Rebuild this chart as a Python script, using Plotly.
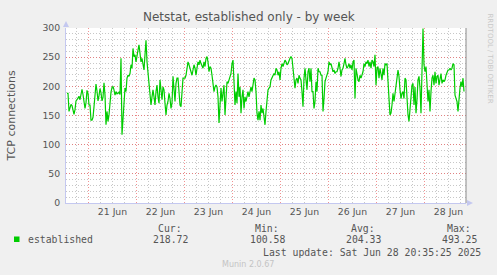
import plotly.graph_objects as go
import pandas as pd

# ---- data (30-minute samples) ----
start_time = "2025-06-20 13:15"
step = "30min"
seg1 = [188,188,157,162,169,167,160,152,160,175,177,181,183,177,188,195,186,172,162,172,
        193,188,168,168,142,142,147,165,191,204,192,175,184,196,189,175,181,206,185,134,
        157,140,151,179,190,198,200,194,185,191,187,188,190,186]
seg2 = [248,117,145,174,197,191,214,219,217,222,237,231,265,251,254,242,257,262,271,259,
        242,248,237,228,254,279,242,225,197,185,168,182,194,182,168,191,202,182,171,211,
        197,177,199,194,171,151,168,174,188,179,162,171,217,194,174,205,214]
seg3 = [214,191,168,165,197,214,214,214,219,231,242,237,228,225,219,228,237,231,219,231,
        242,237,245,239,234,231,242,234,248,251,242,225,234,231,219,202,191,199,202,199,
        182,137,168,197,174,191,202,151,191,208,205,211,219,222,239,245,208]
seg4 = [168,191,171,222,182,199,154,182,194,162,182,174,185,191,182,194,199,191,205,214,
        211,191,154,142,157,142,168,154,162,140,134,157,179,194,197,199,211,214,219,222,
        219,231,228,219,225,211,231,239,234,242,245,242,237,239,245,248,251]
seg5 = [248,231,205,197,211,214,205,219,214,211,191,165,214,231,211,194,225,231,208,231,
        191,191,162,174,208,191,231,225,225,219,219,157,179,208,214,219,225,242,237,239,
        228,225,228,222,225,225,231,242,231,217,228,231,239,248,237,231]
seg6 = [234,239,231,237,228,242,245,179,231,219,211,208,219,214,219,225,239,234,242,239,
        245,234,242,231,245,242,234,254,202,231,234,214,231,222,211,231,219,239,237,239,
        197,179,151,154,168,188,174,185,197,214,228,217,194,179,188,191,179]
seg7 = [214,211,174,151,140,162,182,202,205,168,199,154,177,211,217,197,154,208,299,237,
        225,234,205,174,194,157,191,214,219,202,225,205,217,219,202,214,222,205,211,208,
        211,219,225,228,228,231,228,231,239,237,185,177,174,157,188,197,208,199,214,191]
values = seg1 + seg2 + seg3 + seg4 + seg5 + seg6 + seg7
times = pd.date_range(start_time, periods=len(values), freq=step)

x_range = ["2025-06-20 12:45", "2025-06-28 20:45"]
y_ticks = [0, 50, 100, 150, 200, 250, 300]
series_name = "established"
stat_labels = ["Cur:", "Min:", "Avg:", "Max:"]
stat_values = ["218.72", "100.58", "204.33", "493.25"]
last_update = "Last update: Sat Jun 28 20:35:25 2025"
title = "Netstat, established only - by week"
y_title = "TCP connections"

# ---- layout geometry (pixels) ----
W, H = 497, 275
L, R, T, B = 66, 31, 28, 72
PW, PH = W - L - R, H - T - B

def px(x):
    return (x - L) / PW

def py(y):
    return (H - B - y) / PH

GREEN = "#00CC00"
TXT = "#555555"
MAJ = "rgba(235,100,100,0.7)"
MIN = "rgba(175,175,175,0.7)"
AXIS = "#c4c8f0"
DASH = "1px,2px"

fig = go.Figure()
fig.add_trace(go.Scatter(x=times, y=values, mode="lines",
                         line=dict(color=GREEN, width=1.2), showlegend=False,
                         hoverinfo="skip"))

fig.update_layout(
    width=W, height=H,
    margin=dict(l=L, r=R, t=T, b=B, pad=0),
    paper_bgcolor="#F0F0F0", plot_bgcolor="#FFFFFF",
    font=dict(family="DejaVu Sans", size=9.3, color=TXT),
    showlegend=False,
)
fig.update_xaxes(
    type="date", range=x_range, tick0="2025-06-21", dtick=86400000,
    tickformat="%d %b", ticklabelmode="period", ticks="",
    showgrid=True, gridcolor=MAJ, griddash=DASH, gridwidth=1,
    minor=dict(dtick=21600000, tick0="2025-06-21", showgrid=True,
               gridcolor=MIN, griddash=DASH, gridwidth=1, ticks=""),
    showline=True, linecolor=AXIS, linewidth=1, zeroline=False,
    tickfont=dict(family="DejaVu Sans", size=9.3, color=TXT),
    fixedrange=True,
)
fig.update_yaxes(
    range=[0, 300], tickvals=y_ticks, ticks="",
    showgrid=True, gridcolor=MAJ, griddash=DASH, gridwidth=1,
    minor=dict(dtick=10, showgrid=True, gridcolor=MIN, griddash=DASH,
               gridwidth=1, ticks=""),
    showline=True, linecolor=AXIS, linewidth=1, zeroline=False,
    tickfont=dict(family="DejaVu Sans", size=9.3, color=TXT),
    ticklabelstandoff=3, fixedrange=True,
)

shapes = [
    # right-hand "now" line
    dict(type="line", xref="paper", yref="paper", x0=1, x1=1, y0=0, y1=1,
         line=dict(color="#8a8a8a", width=1), layer="above"),
    # axis arrows
    dict(type="path", xref="paper", yref="paper", xsizemode="pixel", ysizemode="pixel",
         xanchor=0, yanchor=1, path="M -3,1 L 3,1 L 0,7 Z",
         fillcolor=AXIS, line=dict(width=0)),
    dict(type="path", xref="paper", yref="paper", xsizemode="pixel", ysizemode="pixel",
         xanchor=1, yanchor=0, path="M 1,-3 L 1,3 L 7,0 Z",
         fillcolor=AXIS, line=dict(width=0)),
    # legend swatch
    dict(type="rect", xref="paper", yref="paper", x0=px(14), x1=px(19.5),
         y0=py(242), y1=py(236.5), fillcolor=GREEN, line=dict(width=0)),
]
fig.update_layout(shapes=shapes)

MONO = dict(family="DejaVu Sans Mono", size=9.8, color=TXT)
ann = [
    dict(text=title, x=px(248.5), y=py(17.5), xanchor="center", yanchor="middle",
         font=dict(family="DejaVu Sans", size=12, color=TXT)),
    dict(text=y_title, x=px(11), y=py(115.5), xanchor="center", yanchor="middle",
         textangle=-90, font=dict(family="DejaVu Sans", size=11, color=TXT)),
    dict(text="RRDTOOL / TOBI OETIKER", x=px(489.5), y=py(58), xanchor="center",
         yanchor="middle", textangle=90,
         font=dict(family="DejaVu Sans", size=7, color="#c8c8c8")),
    dict(text=series_name, x=px(26), y=py(239.5), xanchor="left", yanchor="middle",
         font=MONO),
    dict(text=last_update, x=px(482.5), y=py(252), xanchor="right", yanchor="middle",
         font=MONO),
    dict(text="Munin 2.0.67", x=px(248), y=py(264), xanchor="center", yanchor="middle",
         font=dict(family="DejaVu Sans", size=8, color="#c4c4c4")),
]
stat_x = [170, 267, 363, 459]
for lab, val, cx in zip(stat_labels, stat_values, stat_x):
    ann.append(dict(text=lab, x=px(cx), y=py(228), xanchor="center",
                    yanchor="middle", font=MONO))
    ann.append(dict(text=val, x=px(cx), y=py(239.5), xanchor="center",
                    yanchor="middle", font=MONO))
for a in ann:
    a.update(xref="paper", yref="paper", showarrow=False)
fig.update_layout(annotations=ann)

fig.write_html("out.html")
